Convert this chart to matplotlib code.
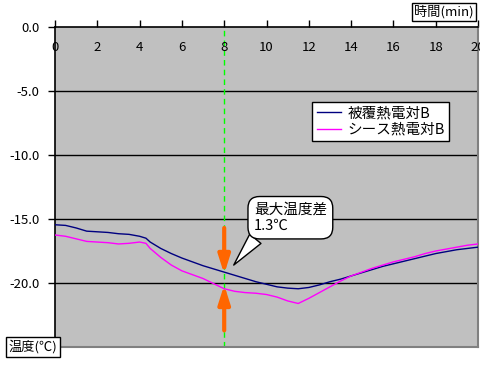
import matplotlib
matplotlib.use("Agg")
import matplotlib.pyplot as plt

plt.rcParams["font.family"] = ["Noto Sans CJK JP", "DejaVu Sans"]

# time (min) and temperatures (deg C)
time_min = [0, 0.5, 1.0, 1.5, 2.0, 2.5, 3.0, 3.5, 4.0, 4.3, 4.5, 5.0, 5.5, 6.0, 6.5,
            7.0, 7.5, 8.0, 8.5, 9.0, 9.5, 10.0, 10.5, 11.0, 11.5, 12.0, 12.5, 13.0,
            13.5, 14.0, 14.5, 15.0, 15.5, 16.0, 16.5, 17.0, 17.5, 18.0, 18.5, 19.0,
            19.5, 20.0]
coated_b = [-15.45, -15.5, -15.7, -15.95, -16.0, -16.05, -16.15, -16.2, -16.35, -16.5,
            -16.8, -17.3, -17.7, -18.05, -18.35, -18.65, -18.9, -19.15, -19.4, -19.65,
            -19.9, -20.1, -20.3, -20.4, -20.45, -20.35, -20.15, -19.9, -19.7, -19.45,
            -19.2, -18.95, -18.7, -18.5, -18.3, -18.1, -17.9, -17.7, -17.55, -17.4,
            -17.3, -17.2]
sheath_b = [-16.25, -16.35, -16.55, -16.75, -16.8, -16.85, -16.95, -16.9, -16.8, -16.9,
            -17.3, -18.0, -18.6, -19.05, -19.35, -19.65, -20.05, -20.45, -20.65, -20.75,
            -20.8, -20.9, -21.1, -21.4, -21.6, -21.2, -20.75, -20.3, -19.85, -19.45,
            -19.15, -18.85, -18.6, -18.35, -18.15, -17.95, -17.7, -17.5, -17.35, -17.2,
            -17.05, -16.95]

x_ticks = [0, 2, 4, 6, 8, 10, 12, 14, 16, 18, 20]
y_ticks = [0, -5, -10, -15, -20]
y_labels = ["0.0", "-5.0", "-10.0", "-15.0", "-20.0"]

marker_t = 8
arrow_top, arrow_bottom = -15.7, -23.7
diff_text = "最大温度差\n1.3℃"

fig = plt.figure(figsize=(4.8, 3.67), dpi=100)
ax = fig.add_axes([55 / 480, 20 / 367, 423 / 480, 320 / 367])
ax.set_facecolor("#C0C0C0")

ax.set_xlim(0, 20)
ax.set_ylim(-25, 0)

for y in y_ticks[1:]:
    ax.axhline(y, color="black", lw=1, zorder=1)

ax.plot(time_min, coated_b, color="#000080", lw=1, label="被覆熱電対B", zorder=3)
ax.plot(time_min, sheath_b, color="#FF00FF", lw=1, label="シース熱電対B", zorder=3)

ax.axvline(marker_t, color="#00FF00", lw=1, ls=(0, (4, 3)), zorder=2)

# orange arrows pointing to both curves at t = 8
i8 = time_min.index(marker_t)
arrow_kw = dict(arrowstyle="-|>,head_length=1.1,head_width=0.35", color="#FF6600",
                lw=3, shrinkA=0, shrinkB=0)
ax.annotate("", xy=(marker_t, coated_b[i8] - 0.15), xytext=(marker_t, arrow_top),
            arrowprops=arrow_kw, zorder=4)
ax.annotate("", xy=(marker_t, sheath_b[i8] + 0.3), xytext=(marker_t, arrow_bottom),
            arrowprops=arrow_kw, zorder=4)

ax.annotate(diff_text, xy=(8.45, -18.6), xytext=(9.4, -14.9), fontsize=10.5,
            ha="left", va="center", linespacing=1.25,
            bbox=dict(boxstyle="round,pad=0.4,rounding_size=0.8", fc="white",
                      ec="black", lw=1),
            arrowprops=dict(arrowstyle="wedge,tail_width=1.0,shrink_factor=0.5",
                            fc="white", ec="black", lw=1, shrinkA=0, shrinkB=0,
                            relpos=(0.12, 0.1)),
            zorder=5)

# axes frame
for side in ["left", "top"]:
    ax.spines[side].set_color("black")
    ax.spines[side].set_linewidth(1.2)
for side in ["right", "bottom"]:
    ax.spines[side].set_color("#808080")
    ax.spines[side].set_linewidth(1.5)

ax.set_yticks(y_ticks)
ax.set_yticklabels(y_labels)
ax.tick_params(axis="y", direction="out", length=5, width=1, labelsize=9.5, pad=6)

ax.set_xticks(x_ticks)
ax.tick_params(axis="x", bottom=False, labelbottom=False, top=True, labeltop=False,
               direction="out", length=5, width=1)
for t in x_ticks:
    ax.text(t, 0.935, str(t), transform=ax.get_xaxis_transform(), ha="center",
            va="center", fontsize=9.5, clip_on=False)

leg = ax.legend(loc="upper left", bbox_to_anchor=(0.608, 0.765), fontsize=10.5,
                frameon=True, fancybox=False, handlelength=1.7, handletextpad=0.4,
                borderpad=0.3, labelspacing=0.15, borderaxespad=0)
leg.get_frame().set_edgecolor("black")
leg.get_frame().set_linewidth(1)
leg.get_frame().set_facecolor("white")
leg.get_frame().set_alpha(1)

box = dict(boxstyle="square,pad=0.2", fc="white", ec="black", lw=1)
fig.text(444 / 480, 1 - 12 / 367, "時間(min)", ha="center", va="center",
         fontsize=9.5, bbox=box)
fig.text(33 / 480, 1 - 347 / 367, "温度(℃)", ha="center", va="center",
         fontsize=9.5, bbox=box)

fig.savefig("out.png", dpi=100)
